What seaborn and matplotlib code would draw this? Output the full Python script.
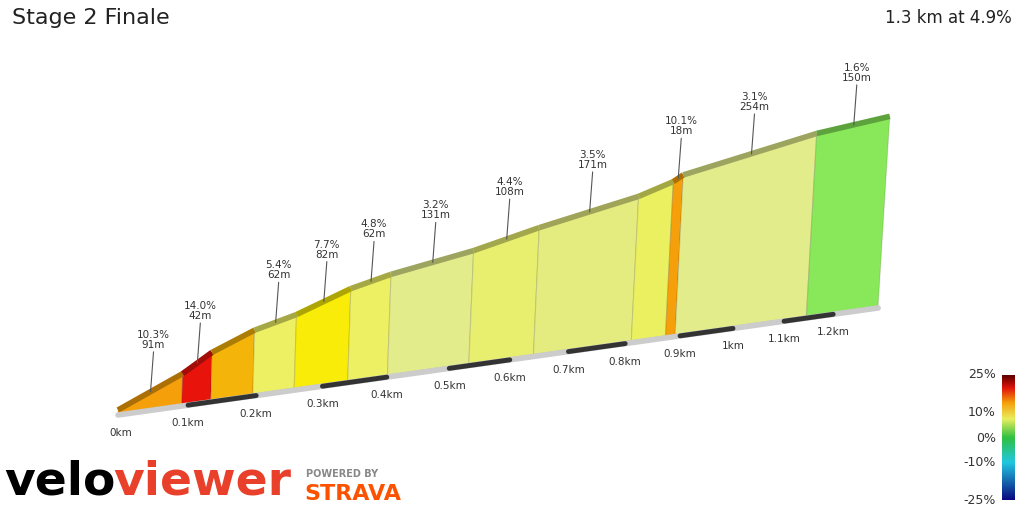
import numpy as np
import matplotlib.pyplot as plt
import seaborn as sns
from matplotlib.patches import Polygon
from matplotlib.colors import LinearSegmentedColormap

# segment data (gradient %, length m); label shown or not
grades = [10.3, 14.0, 9.0, 5.4, 7.7, 4.8, 3.2, 4.4, 3.5, 5.5, 10.1, 3.1, 1.6]
lengths = [91, 42, 62, 62, 82, 62, 131, 108, 171, 62, 18, 254, 150]
labelled = [1, 1, 0, 1, 1, 1, 1, 1, 1, 0, 1, 1, 1]
colors = ["#f5a00a", "#e8140c", "#f5b40a", "#eef064", "#f8ec08", "#eef064", "#e2ec8a",
          "#e8ee6e", "#e4ec80", "#eaf060", "#f5a00a", "#e2ec8a", "#88e85a"]
km_ticks = ["0km", "0.1km", "0.2km", "0.3km", "0.4km", "0.5km", "0.6km", "0.7km",
            "0.8km", "0.9km", "1km", "1.1km", "1.2km"]
cbar_vals = [25, 10, 0, -10, -25]

total = sum(lengths)
dist = np.concatenate([[0], np.cumsum(lengths)])
elev = np.concatenate([[0], np.cumsum(np.array(lengths) * np.array(grades) / 100)])

X0, Y0 = 118, 413
SLOPE = 108 / 767
EK = 2.92


def base(d):
    u = d / 100
    x = X0 + 71 * u - 0.95 * u ** 2
    return x, Y0 - (x - X0) * SLOPE


def top(d, e):
    x, y = base(d)
    return x + d * 0.009, y - 3 - e * EK


sns.set_style("white")
fig = plt.figure(figsize=(10.24, 5.12), dpi=100)
ax = fig.add_axes([0, 0, 1, 1])
ax.set_xlim(0, 1024)
ax.set_ylim(512, 0)
ax.axis("off")

for i in range(len(lengths)):
    d0, d1 = dist[i], dist[i + 1]
    b0, b1 = base(d0), base(d1)
    t0, t1 = top(d0, elev[i]), top(d1, elev[i + 1])
    ax.add_patch(Polygon([b0, b1, t1, t0], closed=True, facecolor=colors[i],
                         edgecolor=(0, 0, 0, 0.12), lw=0.8))
    # ridge
    ax.plot([t0[0], t1[0]], [t0[1], t1[1]], color=colors[i], lw=4, solid_capstyle="butt")
    ax.plot([t0[0], t1[0]], [t0[1], t1[1]], color="black", alpha=0.3, lw=4, solid_capstyle="butt")
    if labelled[i]:
        dm = (d0 + d1) / 2
        em = (elev[i] + elev[i + 1]) / 2
        tx, ty = top(dm, em)
        ax.plot([tx, tx + 3], [ty, ty - 40], color="#555555", lw=0.8)
        ax.text(tx + 3, ty - 42, f"{grades[i]:.1f}%\n{lengths[i]}m", ha="center",
                va="bottom", fontsize=7.5, color="#333333", linespacing=1.0)

# base line with km ticks
dd = np.linspace(0, total, 50)
bx, by = base(dd)
ax.plot(bx, by + 2, color="#cccccc", lw=4)
for k in range(13):
    s0 = k * 100
    e0 = min((k + 1) * 100, total)
    if k % 2 == 1:
        sx, sy = base(np.linspace(s0, e0, 5))
        ax.plot(sx, sy + 2, color="#333333", lw=3.5)
    lx, ly = base(s0)
    ax.text(lx + (3 if k == 0 else 0), ly + 20, km_ticks[k], ha="center", va="center",
            fontsize=7.5, color="#333333")

# colorbar
cmap = LinearSegmentedColormap.from_list("g", [(0, "#0a0a80"), (0.3, "#20c8e0"), (0.5, "#30c040"),
                                               (0.65, "#e8ee60"), (0.78, "#f5a00a"),
                                               (0.9, "#e0140c"), (1, "#600000")])
cax = fig.add_axes([1002 / 1024, 12 / 512, 13 / 1024, 125 / 512])
cax.imshow(np.linspace(1, 0, 200)[:, None], aspect="auto", cmap=cmap)
cax.axis("off")
for v, yy in zip(cbar_vals, [375, 412, 438, 463, 500]):
    ax.text(996, yy, f"{v}%", ha="right", va="center", fontsize=9, color="#333333")

ax.text(12, 18, "Stage 2 Finale", fontsize=16, va="center", color="#222222")
ax.text(1012, 18, "1.3 km at 4.9%", fontsize=12, va="center", ha="right", color="#222222")

t1 = ax.text(4, 482, "velo", fontsize=34, fontweight="bold", va="center", color="black")
fig.canvas.draw()
ext = t1.get_window_extent()
ax.text(ext.x1 - 2, 482, "viewer", fontsize=34, fontweight="bold", va="center", color="#e8402a")
ax.text(306, 474, "POWERED BY", fontsize=7, fontweight="bold", color="#888888", va="center")
ax.text(304, 494, "STRAVA", fontsize=16, fontweight="bold", color="#fc5200", va="center")

fig.savefig("out.png", dpi=100)
